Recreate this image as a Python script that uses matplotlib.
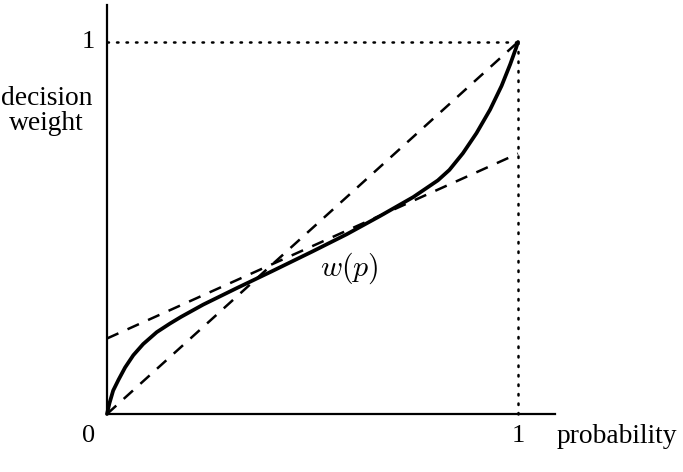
import matplotlib
matplotlib.use("Agg")
import matplotlib.pyplot as plt

plt.rcParams['font.family'] = ['Liberation Serif', 'DejaVu Serif']
plt.rcParams['mathtext.fontset'] = 'cm'

# decision weight curve w(p)
p = [0.0, 0.006, 0.015, 0.028, 0.044, 0.064, 0.088, 0.121, 0.153, 0.18,
     0.234, 0.315, 0.40, 0.50, 0.583, 0.664, 0.745, 0.805, 0.833, 0.866,
     0.899, 0.932, 0.960, 0.981, 0.995, 1.0]
w = [0.0, 0.029, 0.063, 0.092, 0.125, 0.158, 0.188, 0.220, 0.243, 0.261,
     0.294, 0.338, 0.383, 0.437, 0.483, 0.532, 0.583, 0.628, 0.656, 0.701,
     0.755, 0.818, 0.882, 0.940, 0.983, 1.0]

# dashed reference lines
diag_x = [0, 1]
diag_y = [0, 1]
tan_x = [0, 1]
tan_y = [0.203, 0.70]

fig = plt.figure(figsize=(6.83, 4.72), dpi=100)
ax = fig.add_axes([107 / 683, 58 / 472, 448 / 683, 409 / 472])
ax.set_xlim(0, 448 / 411)
ax.set_ylim(0, 409 / 372)

for s in ['top', 'right']:
    ax.spines[s].set_visible(False)
for s in ['left', 'bottom']:
    ax.spines[s].set_linewidth(1.6)
ax.set_xticks([])
ax.set_yticks([])

dots = (0, (0.6, 3.2))
ax.plot([0, 1], [1, 1], color='black', lw=1.8, linestyle=dots,
        dash_capstyle='round', clip_on=False)
ax.plot([1, 1], [0, 1], color='black', lw=1.8, linestyle=dots,
        dash_capstyle='round', clip_on=False)
ax.plot(diag_x, diag_y, color='black', lw=1.8, linestyle=(0, (5, 4)), clip_on=False)
ax.plot(tan_x, tan_y, color='black', lw=1.8, linestyle=(0, (5, 4)), clip_on=False)
ax.plot(p, w, color='black', lw=2.7, solid_capstyle='round',
        solid_joinstyle='round', clip_on=False)

ax.text(0.59, 0.392, r'$w(p)$', fontsize=21.5, ha='center', va='center')

fs = 19
ax.text(-0.046, -0.060, '0', fontsize=fs, ha='center', va='center')
ax.text(1.0, -0.060, '1', fontsize=fs, ha='center', va='center')
ax.text(-0.046, 1.0, '1', fontsize=fs, ha='center', va='center')
ax.text(1.093, -0.060, 'probability', fontsize=19.8, ha='left', va='center',
        clip_on=False)
ax.text(-0.147, 0.815, 'decision\nweight', fontsize=19.8, ha='center', va='center',
        linespacing=1.0, multialignment='center')

fig.savefig('out.png', dpi=100)
